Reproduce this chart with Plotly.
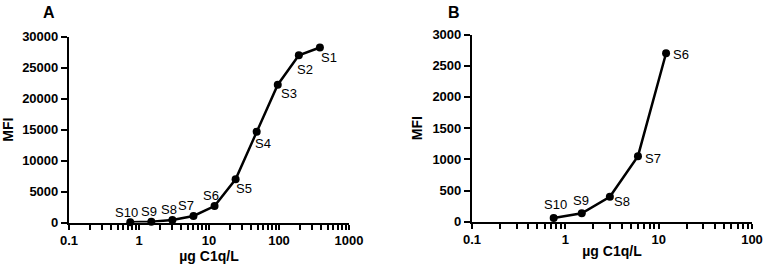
import math
import plotly.graph_objects as go

# ---- data ----
conc_a = [384, 192, 96, 48, 24, 12, 6, 3, 1.5, 0.75]
mfi_a = [28250, 27000, 22250, 14650, 6980, 2650, 1050, 400, 130, 60]
labels_a = ["S1", "S2", "S3", "S4", "S5", "S6", "S7", "S8", "S9", "S10"]

conc_b = [12, 6, 3, 1.5, 0.75]
mfi_b = [2700, 1050, 400, 135, 60]
labels_b = ["S6", "S7", "S8", "S9", "S10"]

xticks_a = [0.1, 1, 10, 100, 1000]
xticktext_a = ["0.1", "1", "10", "100", "1000"]
xticks_b = [0.1, 1, 10, 100]
xticktext_b = ["0.1", "1", "10", "100"]
yticks_a = [0, 5000, 10000, 15000, 20000, 25000, 30000]
yticktext_a = ["0", "5000", "10000", "15000", "20000", "25000", "30000"]
yticks_b = [0, 500, 1000, 1500, 2000, 2500, 3000]
yticktext_b = ["0", "500", "1000", "1500", "2000", "2500", "3000"]

# label offsets in pixels (style): (dx, dy-up)
off_a = [(9, -10), (6, -14), (11, -9), (6, -12), (8, -9),
         (-4, 11), (-7, 11), (-3, 11), (-2, 10), (-4, 10)]
off_b = [(15, -1), (15, -2), (12, -5), (-1, 13), (2, 13)]

FONT = "Liberation Sans, Arial, sans-serif"

fig = go.Figure()
for xs, ys, xa, ya in [(conc_a, mfi_a, "x", "y"), (conc_b, mfi_b, "x2", "y2")]:
    fig.add_trace(go.Scatter(
        x=xs, y=ys, mode="lines+markers",
        line=dict(color="black", width=2.5), marker=dict(color="black", size=8),
        xaxis=xa, yaxis=ya, cliponaxis=False, showlegend=False))

annotations = []
for xs, ys, labs, offs, xr, yr in [(conc_a, mfi_a, labels_a, off_a, "x", "y"),
                                   (conc_b, mfi_b, labels_b, off_b, "x2", "y2")]:
    for xv, yv, lab, (dx, dy) in zip(xs, ys, labs, offs):
        annotations.append(dict(
            text=lab, x=math.log10(xv), y=yv, xref=xr, yref=yr, showarrow=False,
            xanchor="center", yanchor="middle", xshift=dx, yshift=dy,
            font=dict(family=FONT, size=13, color="black")))

tickfont = dict(family=FONT, size=13, color="black", weight="bold")
titlefont = dict(family=FONT, size=14, color="black", weight="bold")


def log_ticks(vals, texts):
    """Major decade ticks with labels plus unlabeled 2..9 minor ticks."""
    tv, tt = [], []
    for v, t in zip(vals, texts):
        tv.append(v)
        tt.append(t)
    for v in vals[:-1]:
        for m in range(2, 10):
            tv.append(v * m)
            tt.append("")
    return tv, tt


def xaxis(dom, anchor, tv, tt, rng):
    vals, texts = log_ticks(tv, tt)
    return dict(domain=dom, anchor=anchor, type="log", range=rng, automargin=False,
                tickmode="array", tickvals=vals, ticktext=texts,
                ticks="outside", ticklen=5, tickwidth=2, tickcolor="black",
                showline=True, linewidth=2.2, linecolor="black",
                showgrid=False, zeroline=False, tickfont=tickfont,
                title=dict(text="µg C1q/L", font=titlefont, standoff=0))


def yaxis(dom, anchor, tv, tt, rng):
    return dict(domain=dom, anchor=anchor, range=rng, automargin=False,
                tickmode="array", tickvals=tv, ticktext=tt,
                ticks="outside", ticklen=6, tickwidth=2, tickcolor="black",
                showline=True, linewidth=2.2, linecolor="black",
                showgrid=False, zeroline=False, tickfont=tickfont,
                title=dict(text="MFI", font=titlefont, standoff=6))


L, R, T, B = 69, 12, 33, 48
W, H = 765 - L - R, 271 - T - B


def clamp(v):
    return min(1.0, max(0.0, v))


def xd(a, b):
    return [clamp((a - L) / W), clamp((b - L) / W)]


def yd(top, bot):
    return [clamp((271 - B - bot) / H), clamp((271 - B - top) / H)]


for txt, px, py in [("A", 49, 13), ("B", 454, 13)]:
    annotations.append(dict(
        text=txt, x=(px - L) / W, y=(271 - B - py) / H, xref="paper", yref="paper",
        showarrow=False, xanchor="center", yanchor="middle",
        font=dict(family=FONT, size=16, color="black", weight="bold")))

fig.update_layout(
    width=765, height=271,
    margin=dict(l=L, r=R, t=T, b=B, autoexpand=False),
    paper_bgcolor="white", plot_bgcolor="white",
    xaxis=xaxis(xd(69, 349), "y", xticks_a, xticktext_a, [-1, 3]),
    yaxis=yaxis(yd(36.7, 222.5), "x", yticks_a, yticktext_a, [0, 30000]),
    xaxis2=xaxis(xd(472, 752), "y2", xticks_b, xticktext_b, [-1, 2]),
    yaxis2=yaxis(yd(34.5, 221.7), "x2", yticks_b, yticktext_b, [0, 3000]),
    annotations=annotations,
)

fig.write_html("out.html", config={"displayModeBar": False},
               post_script="document.body.style.margin='0';")
